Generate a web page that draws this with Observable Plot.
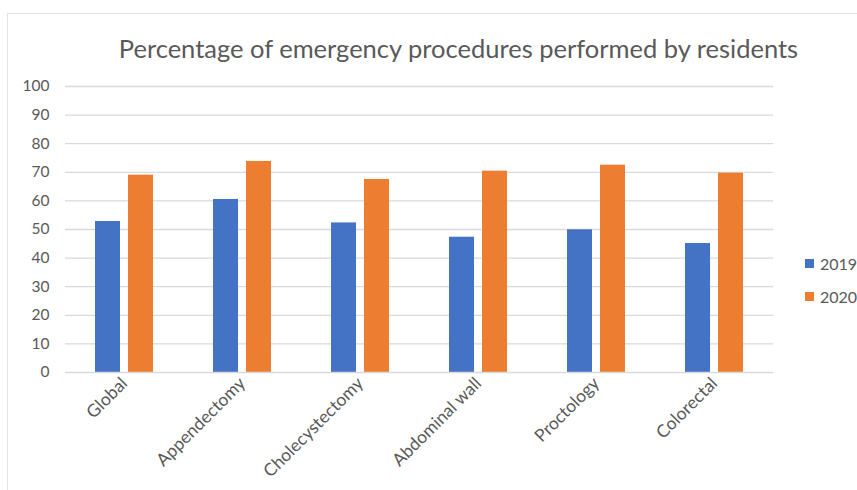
<!DOCTYPE html>
<html>
<head>
<meta charset="utf-8">
<script src="https://cdn.jsdelivr.net/npm/d3@7"></script>
<script src="https://cdn.jsdelivr.net/npm/@observablehq/plot@0.6"></script>
<style>
  html, body { margin: 0; padding: 0; background: #fff; }
  #wrap { position: relative; width: 857px; height: 490px; overflow: hidden; font-family: Lato, "Open Sans", sans-serif; }
  #frame { position: absolute; left: 7px; top: 13px; width: 860px; height: 490px; border-left: 1.5px solid #e3e3e3; border-top: 1.5px solid #e3e3e3; box-sizing: border-box; }
  #title { position: absolute; top: 33px; left: 0; width: 917px; text-align: center; font-size: 25.5px; color: #595959; white-space: nowrap; }
  #chart { position: absolute; left: 0; top: 0; }
  .leg { position: absolute; left: 805px; font-size: 16px; color: #595959; display: flex; align-items: center; }
  .leg span.sw { display: inline-block; width: 9px; height: 9px; margin-right: 6px; }
</style>
</head>
<body>
<div id="wrap">
  <div id="frame"></div>
  <div id="chart"></div>
  <div id="title">Percentage of emergency procedures performed by residents</div>
  <div id="legend"></div>
</div>
<script>
const categories = ["Global", "Appendectomy", "Cholecystectomy", "Abdominal wall", "Proctology", "Colorectal"];
const years = ["2019", "2020"];
const values2019 = [52.8, 60.5, 52.3, 47.3, 49.9, 45.1];
const values2020 = [69.0, 73.8, 67.5, 70.4, 72.5, 69.7];
const colors = ["#4472C4", "#ED7D31"];
const yTicks = [0, 10, 20, 30, 40, 50, 60, 70, 80, 90, 100];

const data = [];
categories.forEach((c, i) => {
  data.push({category: c, year: years[0], value: values2019[i]});
  data.push({category: c, year: years[1], value: values2020[i]});
});

const chart = Plot.plot({
  width: 857,
  height: 490,
  marginLeft: 63,
  marginRight: 83,
  marginTop: 86,
  marginBottom: 118,
  style: {fontFamily: "Lato, 'Open Sans', sans-serif", fontSize: "15.5px", color: "#595959", background: "transparent"},
  fx: {domain: categories, padding: 0, label: null, axis: "bottom", tickRotate: -45, tickSize: 0, tickPadding: 8},
  x: {domain: years, axis: null, paddingInner: 0.235, paddingOuter: 0.86},
  y: {domain: [0, 100], ticks: yTicks, tickSize: 0, tickPadding: 16, label: null},
  color: {domain: years, range: colors},
  marks: [
    Plot.ruleY(yTicks.slice(1), {stroke: "#d9d9d9", strokeWidth: 1.3}),
    Plot.barY(data, {fx: "category", x: "year", y: "value", fill: "year"}),
    Plot.ruleY([0], {stroke: "#d9d9d9", strokeWidth: 1.5})
  ]
});
chart.querySelectorAll('g[aria-label^="fx-axis"] text').forEach(t => t.setAttribute("font-size", "17.5px"));
chart.querySelectorAll('g[aria-label^="fx-axis"]').forEach(g => g.setAttribute("font-size", "17.5px"));
document.getElementById("chart").appendChild(chart);

const leg = document.getElementById("legend");
years.forEach((y, i) => {
  const d = document.createElement("div");
  d.className = "leg";
  d.style.top = (254 + i * 33) + "px";
  d.innerHTML = `<span class="sw" style="background:${colors[i]}"></span>${y}`;
  leg.appendChild(d);
});
</script>
</body>
</html>
